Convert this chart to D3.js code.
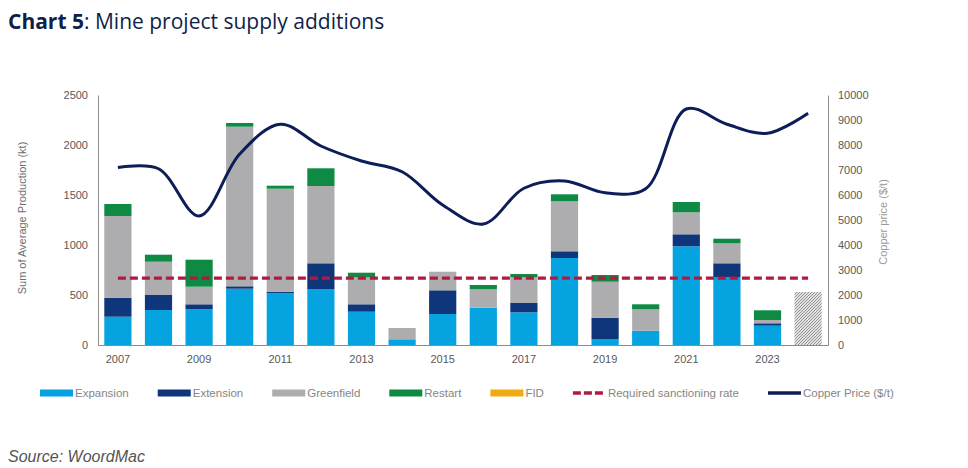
<!DOCTYPE html>
<html lang="en">
<head>
  <meta charset="UTF-8">
  <title>Chart 5: Mine project supply additions</title>
  <style>
    body {
      margin: 0;
      background: #fff;
    }
    #chart text {
      font-family: "Liberation Sans", Arial, sans-serif;
    }
    #chart text.title {
      font-family: "Open Sans", sans-serif;
    }
    .axis text {
      font-size: 11px;
      fill: #595959;
    }
    .legend text {
      font-size: 11.5px;
      fill: #858585;
    }
  </style>
</head>
<body>
<svg id="chart" width="968" height="468"></svg>

<script src="https://d3js.org/d3.v7.min.js"></script>
<script>
  // Chart values (kt per year, copper price in $/t)
  const years = ["2007", "2008", "2009", "2010", "2011", "2012", "2013", "2014", "2015",
                 "2016", "2017", "2018", "2019", "2020", "2021", "2022", "2023", "2024"];
  const expansion  = [283, 350, 357, 563, 517, 560, 333, 57, 310, 373, 327, 870, 60, 143, 987, 680, 193, 0];
  const extension  = [190, 150, 50, 24, 16, 257, 74, 0, 237, 0, 93, 67, 213, 0, 120, 137, 24, 0];
  const greenfield = [817, 333, 176, 1596, 1030, 773, 270, 113, 186, 184, 257, 500, 360, 214, 220, 200, 33, 0];
  const restart    = [120, 70, 270, 37, 30, 177, 46, 0, 0, 43, 33, 70, 67, 50, 103, 46, 97, 0];
  const fid        = [0, 0, 0, 0, 0, 0, 0, 0, 0, 0, 0, 0, 0, 0, 0, 0, 0, 0];
  const unsanctioned = [0, 0, 0, 0, 0, 0, 0, 0, 0, 0, 0, 0, 0, 0, 0, 0, 0, 530];
  const copperPrice = [7100, 7050, 5160, 7640, 8830, 7960, 7360, 6930, 5600, 4840, 6270, 6560,
                       6090, 6250, 9440, 8830, 8470, 9270];
  const sanctionRate = 668;
  const leftTicks = [0, 500, 1000, 1500, 2000, 2500];
  const rightTicks = [0, 1000, 2000, 3000, 4000, 5000, 6000, 7000, 8000, 9000, 10000];
  const xLabels = ["2007", "2009", "2011", "2013", "2015", "2017", "2019", "2021", "2023"];

  const seriesNames = ["Expansion", "Extension", "Greenfield", "Restart", "FID"];
  const seriesValues = [expansion, extension, greenfield, restart, fid];
  const colors = {
    Expansion: "#05a4e1",
    Extension: "#0f367a",
    Greenfield: "#adadaf",
    Restart: "#0f8a45",
    FID: "#f0ab14"
  };
  const sanctionColor = "#b01a3f";
  const copperColor = "#0c1d58";

  // table for d3.stack
  const table = years.map((y, i) => {
    const row = { year: y };
    seriesNames.forEach((s, j) => row[s] = seriesValues[j][i]);
    return row;
  });

  const plot = { left: 98, right: 828, top: 95, bottom: 345 };

  const svg = d3.select("#chart");

  // hatch pattern for the last bar
  const defs = svg.append("defs");
  const pat = defs.append("pattern")
    .attr("id", "hatch")
    .attr("patternUnits", "userSpaceOnUse")
    .attr("width", 3)
    .attr("height", 3);
  pat.append("rect").attr("width", 3).attr("height", 3).attr("fill", "#e2e2e2");
  pat.append("path")
    .attr("d", "M-1,1 l2,-2 M0,3 l3,-3 M2,4 l2,-2")
    .attr("stroke", "#8a8a8a")
    .attr("stroke-width", 0.9);

  // Title
  const title = svg.append("text")
    .attr("class", "title")
    .attr("x", 8)
    .attr("y", 29)
    .style("font-size", "21px")
    .style("fill", "#0f1f4b");
  title.append("tspan").style("font-weight", 700).text("Chart 5");
  title.append("tspan").text(": Mine project supply additions");

  // Scales
  const x = d3.scaleBand()
    .domain(years)
    .range([plot.left, plot.right])
    .paddingInner(0.33)
    .paddingOuter(0.155);
  const y = d3.scaleLinear().domain([0, 2500]).range([plot.bottom, plot.top]);
  const y2 = d3.scaleLinear().domain([0, 10000]).range([plot.bottom, plot.top]);

  // Stacked bars
  const stacked = d3.stack().keys(seriesNames)(table);
  svg.append("g")
    .selectAll("g")
    .data(stacked)
    .enter().append("g")
    .attr("fill", d => colors[d.key])
    .selectAll("rect")
    .data(d => d)
    .enter().append("rect")
    .attr("x", d => x(d.data.year))
    .attr("width", x.bandwidth())
    .attr("y", d => y(d[1]))
    .attr("height", d => y(d[0]) - y(d[1]));

  // Hatched bar
  svg.append("g")
    .selectAll("rect")
    .data(years.map((yr, i) => ({ year: yr, value: unsanctioned[i] })).filter(d => d.value > 0))
    .enter().append("rect")
    .attr("x", d => x(d.year))
    .attr("width", x.bandwidth())
    .attr("y", d => y(d.value))
    .attr("height", d => y(0) - y(d.value))
    .attr("fill", "url(#hatch)");

  // Axes
  const fmt = d3.format("d");
  const axisLeft = svg.append("g")
    .attr("class", "axis")
    .attr("transform", "translate(" + plot.left + ",0)")
    .call(d3.axisLeft(y).tickValues(leftTicks).tickFormat(fmt).tickSize(0).tickPadding(10));

  const axisRight = svg.append("g")
    .attr("class", "axis")
    .attr("transform", "translate(" + plot.right + ",0)")
    .call(d3.axisRight(y2).tickValues(rightTicks).tickFormat(fmt).tickSize(0).tickPadding(10));

  const axisBottom = svg.append("g")
    .attr("class", "axis")
    .attr("transform", "translate(0," + plot.bottom + ")")
    .call(d3.axisBottom(x).tickValues(xLabels).tickSize(0).tickPadding(10));

  [axisLeft, axisRight, axisBottom].forEach(g => g.select(".domain").attr("stroke", "#8c8c8c"));

  // Axis titles
  svg.append("text")
    .attr("transform", "translate(26,218) rotate(-90)")
    .attr("text-anchor", "middle")
    .style("font-size", "11px")
    .style("fill", "#6e6e6e")
    .text("Sum of Average Production (kt)");

  svg.append("text")
    .attr("transform", "translate(887,222) rotate(-90)")
    .attr("text-anchor", "middle")
    .style("font-size", "11px")
    .style("fill", "#9a9a9a")
    .text("Copper price ($/t)");

  // Required sanctioning rate
  const first = years[0], last = years[years.length - 1];
  svg.append("line")
    .attr("x1", x(first) + x.bandwidth() / 2)
    .attr("x2", x(last) + x.bandwidth() / 2)
    .attr("y1", y(sanctionRate))
    .attr("y2", y(sanctionRate))
    .attr("stroke", sanctionColor)
    .attr("stroke-width", 3.2)
    .attr("stroke-dasharray", "8,4");

  // Copper price line
  const line = d3.line()
    .x((d, i) => x(years[i]) + x.bandwidth() / 2)
    .y(d => y2(d))
    .curve(d3.curveCatmullRom.alpha(0.5));

  svg.append("path")
    .datum(copperPrice)
    .attr("fill", "none")
    .attr("stroke", copperColor)
    .attr("stroke-width", 3)
    .attr("d", line);

  // Legend
  const legendItems = seriesNames.map(s => ({ name: s, type: "rect", color: colors[s] }))
    .concat([
      { name: "Required sanctioning rate", type: "dash", color: sanctionColor },
      { name: "Copper Price ($/t)", type: "line", color: copperColor }
    ]);

  const legend = svg.append("g").attr("class", "legend");
  let lx = 40;
  const ly = 393;
  legendItems.forEach(item => {
    const g = legend.append("g").attr("transform", "translate(" + lx + "," + ly + ")");
    if (item.type === "rect") {
      g.append("rect").attr("x", 0).attr("y", -3.5).attr("width", 33).attr("height", 7).attr("fill", item.color);
    } else if (item.type === "dash") {
      g.append("line").attr("x1", 0).attr("x2", 30).attr("y1", 0).attr("y2", 0)
        .attr("stroke", item.color).attr("stroke-width", 3.5).attr("stroke-dasharray", "8,3");
    } else {
      g.append("line").attr("x1", 0).attr("x2", 33).attr("y1", 0).attr("y2", 0)
        .attr("stroke", item.color).attr("stroke-width", 3.5);
    }
    const t = g.append("text")
      .attr("x", 35)
      .attr("y", 0)
      .attr("dy", "0.35em")
      .text(item.name);
    lx += 35 + t.node().getComputedTextLength() + 29;
  });

  // Source
  svg.append("text")
    .attr("x", 8)
    .attr("y", 462)
    .style("font-size", "16px")
    .style("font-style", "italic")
    .style("fill", "#555")
    .text("Source: WoordMac");
</script>
</body>
</html>
